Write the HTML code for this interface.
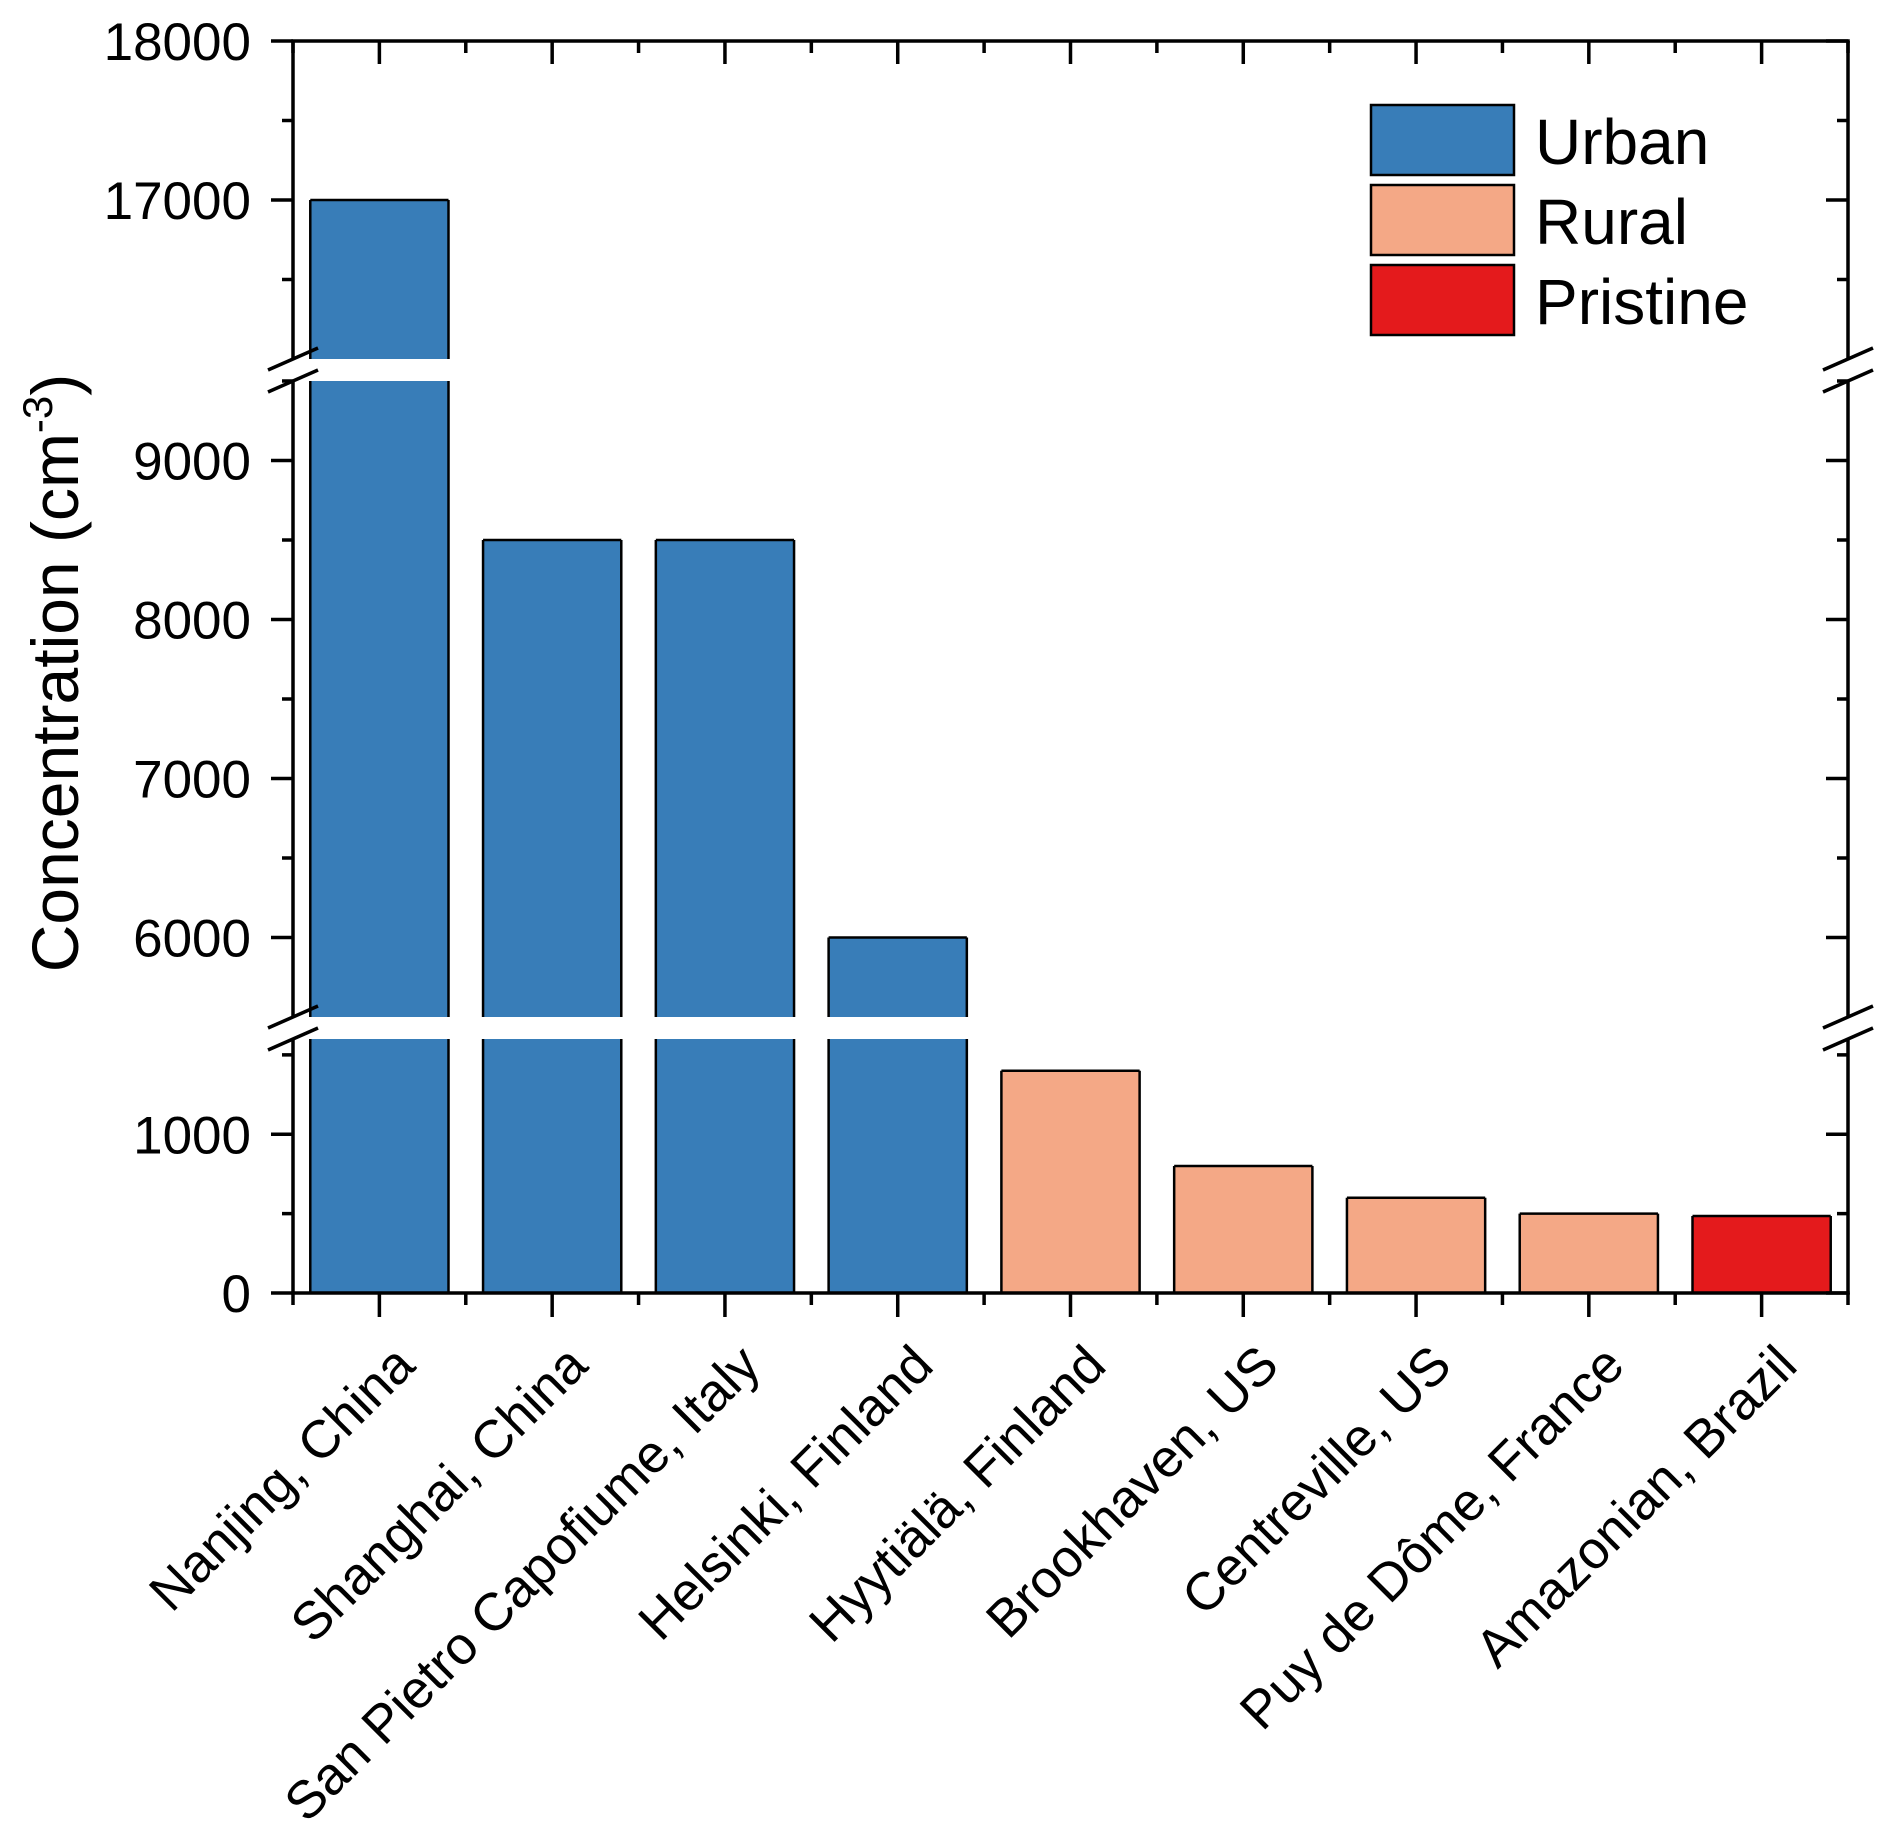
<!DOCTYPE html>
<html><head><meta charset="utf-8"><style>
body{margin:0;background:#fff}
svg{display:block;font-family:"Liberation Sans",Arial,sans-serif}
</style></head><body>
<svg id="chart" width="1892" height="1844" viewBox="0 0 1892 1844" xmlns="http://www.w3.org/2000/svg"></svg>
<script>
const categories=["Nanjing, China","Shanghai, China","San Pietro Capofiume, Italy","Helsinki, Finland","Hyytiälä, Finland","Brookhaven, US","Centreville, US","Puy de Dôme, France","Amazonian, Brazil"];
const values=[17000,8500,8500,6000,1400,800,600,500,485];
const groups=["Urban","Urban","Urban","Urban","Rural","Rural","Rural","Rural","Pristine"];
const legendLabels=["Urban","Rural","Pristine"];
const majorTicks=[0,1000,6000,7000,8000,9000,17000,18000];
const minorTicks=[500,1500,6500,7500,8500,9500,16500,17500];
const colors={Urban:"#387db8",Rural:"#f4a886",Pristine:"#e41a1c"};
const segs=[{lo:0,hi:1600,y0:1293,y1:1039},{lo:5500,hi:9500,y0:1017,y1:381},{lo:16000,hi:18000,y0:359,y1:41}];
const X0=293,X1=1848;
const NS="http://www.w3.org/2000/svg";
const svg=document.getElementById('chart');
function xs(i){return X0+(i+0.5)*(X1-X0)/categories.length;}
function ys(v){
  for(const s of segs){if(v>=s.lo&&v<=s.hi)return s.y0+(v-s.lo)/(s.hi-s.lo)*(s.y1-s.y0);}
  for(let k=0;k<segs.length-1;k++){if(v>segs[k].hi&&v<segs[k+1].lo)return null;}
  return segs[segs.length-1].y1;
}
function mk(t,a,p){const e=document.createElementNS(NS,t);for(const k in a)e.setAttribute(k,a[k]);(p||svg).appendChild(e);return e;}
const bw=(X1-X0)/categories.length*0.8;
categories.forEach((c,i)=>{
  const g=mk('g',{});
  
  
  segs.forEach(s=>{
    if(values[i]<=s.lo)return;
    const top=Math.min(values[i],s.hi);
    const yt=ys(top),yb=s.y0;
    mk('rect',{x:xs(i)-bw/2,y:yt,width:bw,height:yb-yt,fill:colors[groups[i]],stroke:'none'},g);
    const x1=xs(i)-bw/2,x2=xs(i)+bw/2;
    mk('line',{x1:x1,y1:yb,x2:x1,y2:yt,stroke:'#000','stroke-width':2.5},g);
    mk('line',{x1:x2,y1:yb,x2:x2,y2:yt,stroke:'#000','stroke-width':2.5},g);
    if(values[i]<=s.hi)mk('line',{x1:x1,y1:yt,x2:x2,y2:yt,stroke:'#000','stroke-width':2.5},g);
  });
});
const ax=mk('g',{});


const lw=3.5;
segs.forEach(s=>{
  mk('line',{x1:X0,y1:s.y0+(s===segs[0]?1.5:0),x2:X0,y2:s.y1,stroke:'#000','stroke-width':lw},ax);
  mk('line',{x1:X1,y1:s.y0+(s===segs[0]?1.5:0),x2:X1,y2:s.y1,stroke:'#000','stroke-width':lw},ax);
});
mk('line',{x1:X0-lw/2,y1:1293,x2:X1+lw/2,y2:1293,stroke:'#000','stroke-width':lw},ax);
mk('line',{x1:X0-lw/2,y1:41,x2:X1+lw/2,y2:41,stroke:'#000','stroke-width':lw},ax);
for(let k=0;k<segs.length-1;k++){
  [segs[k].y1,segs[k+1].y0].forEach(y=>{
    [X0,X1].forEach(x=>mk('line',{x1:x-25,y1:y+11,x2:x+25,y2:y-11,stroke:'#000','stroke-width':lw},ax));
  });
}
majorTicks.forEach(v=>{
  const y=ys(v);
  mk('line',{x1:X0-22,y1:y,x2:X0,y2:y,stroke:'#000','stroke-width':lw},ax);
  mk('line',{x1:X1-22,y1:y,x2:X1,y2:y,stroke:'#000','stroke-width':lw},ax);
  const t=mk('text',{x:251,y:y+19,'text-anchor':'end','font-size':53,fill:'#000'},ax);
  t.textContent=v;
  
  
});
minorTicks.forEach(v=>{
  const y=ys(v);
  mk('line',{x1:X0-11,y1:y,x2:X0,y2:y,stroke:'#000','stroke-width':lw},ax);
  mk('line',{x1:X1-11,y1:y,x2:X1,y2:y,stroke:'#000','stroke-width':lw},ax);
});
for(let i=0;i<=categories.length;i++){
  const xb=X0+i*(X1-X0)/categories.length;
  mk('line',{x1:xb,y1:1293,x2:xb,y2:1305,stroke:'#000','stroke-width':lw},ax);
  mk('line',{x1:xb,y1:41,x2:xb,y2:53,stroke:'#000','stroke-width':lw},ax);
}
categories.forEach((c,i)=>{
  const x=xs(i);
  mk('line',{x1:x,y1:1293,x2:x,y2:1317,stroke:'#000','stroke-width':lw},ax);
  mk('line',{x1:x,y1:41,x2:x,y2:64,stroke:'#000','stroke-width':lw},ax);
  const t=mk('text',{x:x+38,y:1368,'text-anchor':'end','font-size':53,fill:'#000',transform:`rotate(-45 ${x+38} 1368)`},ax);
  t.textContent=c;
  
  
});
const yt=mk('text',{x:0,y:0,'text-anchor':'middle','font-size':66,fill:'#000',transform:'translate(78 673) rotate(-90)'});


yt.innerHTML='Concentration (cm<tspan dy="-26" font-size="42">-3</tspan><tspan dy="26">)</tspan>';
const lg=mk('g',{});


legendLabels.forEach((l,k)=>{
  const y=105+k*80;
  const r=mk('rect',{x:1371,y:y,width:143,height:70,fill:colors[l],stroke:'#000','stroke-width':2.5},lg);
  
  
  const t=mk('text',{x:1535,y:y+59,'font-size':64,fill:'#000'},lg);
  t.textContent=l;
  
  
});
</script>
</body></html>
